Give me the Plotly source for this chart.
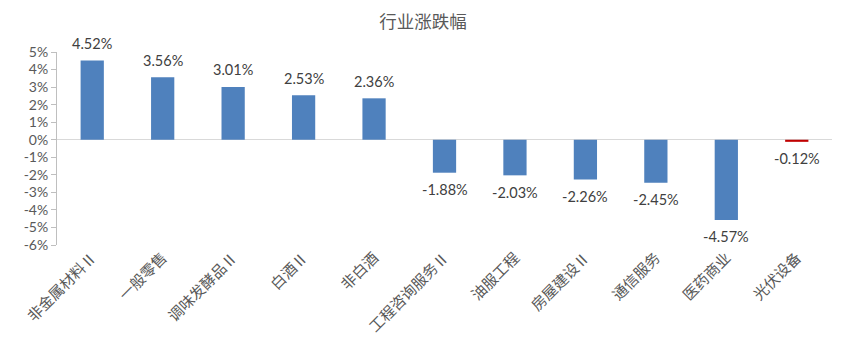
import plotly.graph_objects as go

categories = ["非金属材料Ⅱ", "一般零售", "调味发酵品Ⅱ", "白酒Ⅱ", "非白酒",
              "工程咨询服务Ⅱ", "油服工程", "房屋建设Ⅱ", "通信服务", "医药商业", "光伏设备"]
values = [4.52, 3.56, 3.01, 2.53, 2.36, -1.88, -2.03, -2.26, -2.45, -4.57, -0.12]
bar_colors = ["#4F81BD"] * 10 + ["#C00000"]
tick_vals = [5, 4, 3, 2, 1, 0, -1, -2, -3, -4, -5, -6]
tick_text = ["5%", "4%", "3%", "2%", "1%", "0%", "-1%", "-2%", "-3%", "-4%", "-5%", "-6%"]

W, H = 830, 345  # page body has an 8px default margin

fig = go.Figure()
fig.add_trace(go.Bar(x=categories, y=values, marker=dict(color=bar_colors, line=dict(width=0)),
                     width=0.33, hoverinfo="skip"))

for c, v in zip(categories, values):
    fig.add_annotation(x=c, y=v, text=f"{v:.2f}%", showarrow=False,
                       yanchor="middle", yshift=17 if v > 0 else -17,
                       font=dict(family="Lato, Carlito, sans-serif", size=14.5, color="#404040"))

fig.update_layout(
    width=W, height=H,
    margin=dict(l=49, r=6, t=44, b=108),
    paper_bgcolor="white", plot_bgcolor="white",
    showlegend=False,
    title=dict(text="行业涨跌幅", x=0.5, xanchor="center", y=1 - 14 / H, yanchor="middle",
               font=dict(family="Noto Sans CJK SC", size=17.5, color="#595959")),
    xaxis=dict(tickangle=-45, showgrid=False, showline=False, ticks="", automargin=False,
               tickfont=dict(family="Noto Sans CJK SC", size=15, color="#595959")),
    yaxis=dict(range=[-6, 5], tickvals=tick_vals, ticktext=tick_text, showgrid=False,
               automargin=False,
               zeroline=True, zerolinecolor="#D9D9D9", zerolinewidth=1,
               showline=True, linecolor="#BFBFBF", linewidth=1,
               ticks="outside", ticklen=5, tickcolor="#BFBFBF",
               tickfont=dict(family="Lato, Carlito, sans-serif", size=14, color="#595959")),
)

fig.write_html("out.html")
